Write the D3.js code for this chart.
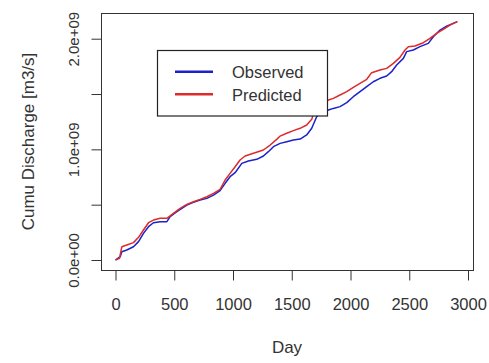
<!doctype html>
<html>
<head>
<meta charset="utf-8">
<title>Cumu Discharge</title>
<script src="https://cdnjs.cloudflare.com/ajax/libs/d3/7.8.5/d3.min.js"></script>
<style>
  body { margin: 0; background: #fff; }
  text { font-family: "Liberation Sans", Arial, sans-serif; fill: #333; }
</style>
</head>
<body>
<div id="chart"></div>
<script>
// values: day, cumulative discharge (x1e9 m3/s)
var obsDay = [0, 40, 54, 96, 153, 196, 238, 281, 323, 380, 437, 465, 522, 607, 663, 720, 777, 834, 890, 933,
  975, 1018, 1075, 1131, 1202, 1259, 1301, 1344, 1401, 1457, 1514, 1571, 1627, 1670, 1712, 1755, 1812, 1854,
  1911, 1968, 2024, 2081, 2138, 2194, 2251, 2308, 2350, 2393, 2450, 2478, 2535, 2591, 2662, 2705, 2762, 2818, 2909];
var obsVal = [0, 0.030, 0.075, 0.090, 0.120, 0.166, 0.241, 0.301, 0.337, 0.346, 0.346, 0.392, 0.437, 0.497,
  0.521, 0.542, 0.557, 0.587, 0.627, 0.693, 0.753, 0.789, 0.873, 0.895, 0.910, 0.940, 0.979, 1.024, 1.054,
  1.069, 1.084, 1.093, 1.130, 1.190, 1.295, 1.331, 1.355, 1.370, 1.386, 1.422, 1.476, 1.521, 1.566, 1.611,
  1.642, 1.663, 1.702, 1.762, 1.822, 1.883, 1.898, 1.928, 1.958, 2.018, 2.078, 2.114, 2.154];

var predDay = [0, 34, 54, 96, 153, 196, 238, 281, 323, 380, 437, 493, 550, 607, 663, 720, 777, 834, 890, 933,
  975, 1018, 1060, 1103, 1174, 1259, 1316, 1372, 1401, 1457, 1514, 1571, 1627, 1670, 1698, 1741, 1812, 1854,
  1911, 1968, 2024, 2081, 2138, 2180, 2251, 2308, 2365, 2421, 2464, 2492, 2549, 2620, 2676, 2733, 2790, 2847, 2909];
var predVal = [0, 0.015, 0.120, 0.136, 0.157, 0.205, 0.271, 0.337, 0.361, 0.377, 0.377, 0.422, 0.467, 0.503,
  0.527, 0.548, 0.572, 0.602, 0.639, 0.723, 0.783, 0.843, 0.904, 0.940, 0.964, 0.994, 1.039, 1.090, 1.120,
  1.145, 1.169, 1.190, 1.220, 1.271, 1.370, 1.401, 1.446, 1.461, 1.491, 1.521, 1.560, 1.596, 1.633, 1.693,
  1.717, 1.732, 1.777, 1.831, 1.898, 1.928, 1.934, 1.964, 2.003, 2.048, 2.084, 2.123, 2.154];

var xTicks = [0, 500, 1000, 1500, 2000, 2500, 3000];
var yTicks = [0, 0.5, 1.0, 1.5, 2.0];
var yLabels = {"0": "0.0e+00", "1": "1.0e+09", "2": "2.0e+09"};
var seriesNames = ["Observed", "Predicted"];
var seriesColors = ["#1a22c8", "#dd2a2a"];

var width = 489, height = 363;
var box = {left: 101, right: 473, top: 13, bottom: 270};

var svg = d3.select("#chart").append("svg")
    .attr("width", width)
    .attr("height", height);

var x = d3.scaleLinear().domain([0, 3000]).range([115.5, 468]);
var y = d3.scaleLinear().domain([0, 2]).range([260, 38.7]);

// frame
svg.append("rect")
    .attr("x", box.left + 0.5).attr("y", box.top + 0.5)
    .attr("width", box.right - box.left).attr("height", box.bottom - box.top)
    .attr("fill", "none").attr("stroke", "#333").attr("stroke-width", 1);

// x axis
var xAxis = d3.axisBottom(x).tickValues(xTicks).tickSize(10).tickPadding(18)
    .tickFormat(d3.format("d"));
var gx = svg.append("g").attr("transform", "translate(0," + (box.bottom + 0.5) + ")").call(xAxis);
gx.select(".domain").remove();
gx.selectAll("line").attr("stroke", "#333");
gx.selectAll("text").style("font-size", "16.5px").attr("fill", "#333");

// y axis
var yAxis = d3.axisLeft(y).tickValues(yTicks).tickSize(10).tickFormat(function (d) {
  return yLabels[String(d)] || "";
});
var gy = svg.append("g").attr("transform", "translate(" + (box.left + 0.5) + ",0)").call(yAxis);
gy.select(".domain").remove();
gy.selectAll("line").attr("stroke", "#333");
gy.selectAll("text")
    .style("font-size", "15px")
    .attr("fill", "#333")
    .attr("text-anchor", "middle")
    .attr("dy", null)
    .attr("x", null)
    .attr("transform", "translate(-23,0) rotate(-90)");

// axis titles
svg.append("text")
    .attr("x", 287).attr("y", 353)
    .attr("text-anchor", "middle")
    .style("font-size", "17px")
    .text("Day");

svg.append("text")
    .attr("transform", "translate(33.5,141.5) rotate(-90)")
    .attr("text-anchor", "middle")
    .style("font-size", "17px")
    .text("Cumu Discharge [m3/s]");

// lines
var line = d3.line()
    .x(function (d) { return x(d[0]); })
    .y(function (d) { return y(d[1]); });

var series = [d3.zip(obsDay, obsVal), d3.zip(predDay, predVal)];
series.forEach(function (s, i) {
  svg.append("path")
      .datum(s)
      .attr("fill", "none")
      .attr("stroke", seriesColors[i])
      .attr("stroke-width", 1.5)
      .attr("stroke-linejoin", "round")
      .attr("d", line);
});

// legend
var legend = svg.append("g");
legend.append("rect")
    .attr("x", 157.5).attr("y", 50.5)
    .attr("width", 170).attr("height", 65.5)
    .attr("fill", "#fff").attr("stroke", "#222").attr("stroke-width", 1.2);

seriesNames.forEach(function (name, i) {
  var ly = 71.7 + i * 22.6;
  legend.append("line")
      .attr("x1", 175).attr("x2", 213)
      .attr("y1", ly).attr("y2", ly)
      .attr("stroke", seriesColors[i])
      .attr("stroke-width", 2.5);
  legend.append("text")
      .attr("x", 232).attr("y", ly + 6.5)
      .style("font-size", "16.5px")
      .text(name);
});
</script>
</body>
</html>
